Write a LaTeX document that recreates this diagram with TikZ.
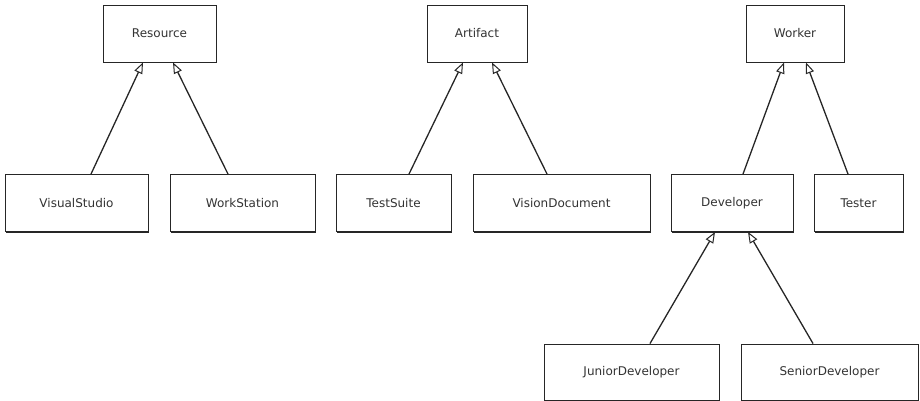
\documentclass[tikz,border=0pt]{standalone}
\usepackage{fontspec}
\setmainfont{DejaVu Sans}
\usetikzlibrary{arrows.meta,shadows}
\begin{document}
\begin{tikzpicture}[x=1pt,y=-1pt,
  box/.style={draw=black!85,line width=0.9pt,fill=white,rectangle,
    minimum height=57pt,inner sep=0pt,text=black!80,font=\fontsize{12}{14}\selectfont,
    general shadow={shadow xshift=1pt,shadow yshift=-1pt,fill=black!85}},
  inherit/.style={draw=black!85,line width=1.3pt,
    -{Triangle[open,length=11pt,width=8.5pt,line width=1pt]}}]
\useasboundingbox (0,0) rectangle (920,401);
% top row: base classes
\node[box,minimum width=113pt] (res) at (159.5,33.5) {Resource};
\node[box,minimum width=100pt] (art) at (477,33.5) {Artifact};
\node[box,minimum width=98pt]  (wk)  at (795,33.5) {Worker};
% middle row
\node[box,minimum width=143pt] (vs)  at (76.5,203) {VisualStudio};
\node[box,minimum width=145pt] (ws)  at (242.5,203) {WorkStation};
\node[box,minimum width=115pt] (ts)  at (393.5,203) {TestSuite};
\node[box,minimum width=177pt] (vd)  at (561.5,203) {VisionDocument};
\node[box,minimum width=122pt] (dev) at (732,203) {Developer};
\node[box,minimum width=89pt]  (tes) at (858.5,203) {Tester};
% bottom row
\node[box,minimum width=175pt,minimum height=56pt] (jd) at (631.5,372) {JuniorDeveloper};
\node[box,minimum width=177pt,minimum height=56pt] (sd) at (829.5,372) {SeniorDeveloper};
% generalisation arrows
\draw[inherit] ([xshift=14.5pt]vs.north) -- ([xshift=-16.5pt]res.south);
\draw[inherit] ([xshift=-14.5pt]ws.north) -- ([xshift=13.5pt]res.south);
\draw[inherit] ([xshift=15.5pt]ts.north) -- ([xshift=-14pt]art.south);
\draw[inherit] ([xshift=-14.5pt]vd.north) -- ([xshift=15pt]art.south);
\draw[inherit] ([xshift=11pt]dev.north) -- ([xshift=-11pt]wk.south);
\draw[inherit] ([xshift=-10.5pt]tes.north) -- ([xshift=11pt]wk.south);
\draw[inherit] ([xshift=18.5pt]jd.north) -- ([xshift=-17pt]dev.south);
\draw[inherit] ([xshift=-16.5pt]sd.north) -- ([xshift=16pt]dev.south);
\end{tikzpicture}
\end{document}
